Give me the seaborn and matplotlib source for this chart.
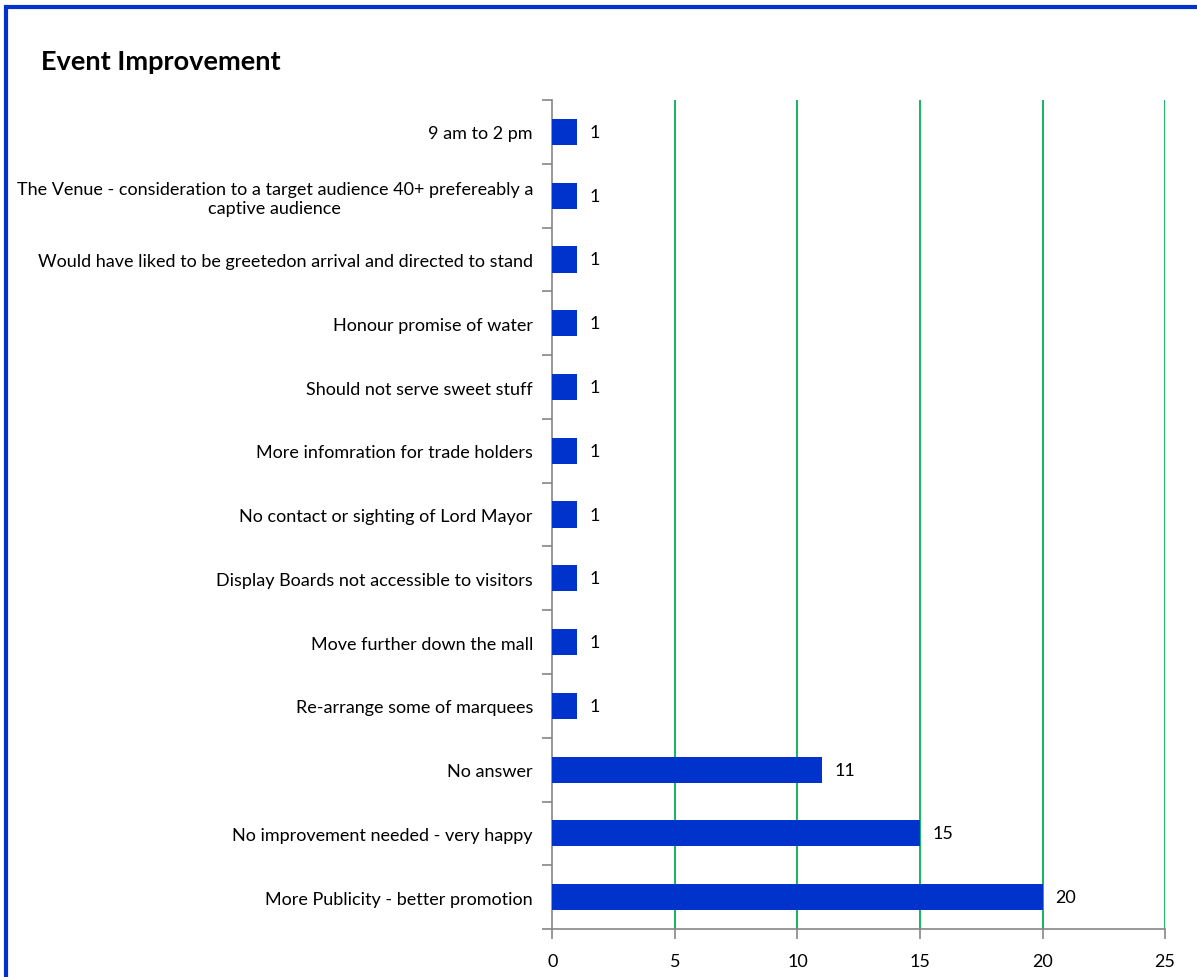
import matplotlib
matplotlib.use("Agg")
import matplotlib.pyplot as plt
import seaborn as sns
import pandas as pd
from matplotlib.patches import Rectangle

# Data (top to bottom as shown)
categories = [
    "9 am to 2 pm",
    "The Venue - consideration to a target audience 40+ prefereably a\ncaptive audience",
    "Would have liked to be greetedon arrival and directed to stand",
    "Honour promise of water",
    "Should not serve sweet stuff",
    "More infomration for trade holders",
    "No contact or sighting of Lord Mayor",
    "Display Boards not accessible to visitors",
    "Move further down the mall",
    "Re-arrange some of marquees",
    "No answer",
    "No improvement needed - very happy",
    "More Publicity - better promotion",
]
counts = [1, 1, 1, 1, 1, 1, 1, 1, 1, 1, 11, 15, 20]
x_ticks = [0, 5, 10, 15, 20, 25]

BAR_COLOR = "#0033CC"
GRID_COLOR = "#00B050"
AXIS_COLOR = "#868686"

def main():
    df = pd.DataFrame({"category": categories, "count": counts})

    sns.set_theme(style="white")
    plt.rcParams["font.family"] = ["Lato", "DejaVu Sans"]
    plt.rcParams["text.color"] = "black"
    plt.rcParams["xtick.color"] = "black"
    plt.rcParams["ytick.color"] = "black"

    fig = plt.figure(figsize=(11.97, 9.78), dpi=100)
    ax = fig.add_axes([0.4615, 0.049, 0.5118, 0.8477])

    # blue border around the chart area
    fig.patches.append(Rectangle((0.005, -0.1), 1.2, 1.092, transform=fig.transFigure,
                                 fill=False, edgecolor="#0033CC", linewidth=3))

    sns.barplot(data=df, x="count", y="category", orient="h", color=BAR_COLOR,
                saturation=1, width=0.41, linewidth=0, ax=ax, zorder=3)

    ax.set_xlim(0, 25)
    ax.set_ylim(len(categories) - 0.5, -0.5)
    ax.set_xticks(x_ticks)
    ax.set_xticklabels([str(t) for t in x_ticks], fontsize=13)
    ax.set_xlabel("")
    ax.set_ylabel("")

    # gridlines
    for t in x_ticks[1:]:
        ax.axvline(t, color=GRID_COLOR, linewidth=1.3, zorder=1)

    # category labels without default ticks; boundary tick marks instead
    ax.set_yticks(range(len(categories)))
    ax.set_yticklabels(categories, fontsize=13, multialignment="center")
    ax.tick_params(axis="y", which="major", length=0, pad=14)
    ax.set_yticks([i - 0.5 for i in range(len(categories) + 1)], minor=True)
    ax.tick_params(axis="y", which="minor", left=True, length=7, color=AXIS_COLOR,
                   width=1.2, direction="out")
    ax.tick_params(axis="x", bottom=True, length=7, color=AXIS_COLOR, labelcolor="black",
                   width=1.2, direction="out", pad=10)

    for side in ["top", "right"]:
        ax.spines[side].set_visible(False)
    for side in ["left", "bottom"]:
        ax.spines[side].set_color(AXIS_COLOR)
        ax.spines[side].set_linewidth(1.2)

    # value labels
    for i, v in enumerate(counts):
        ax.text(v + 0.5, i, str(v), va="center", ha="left", fontsize=13, color="black")

    fig.text(0.034, 0.937, "Event Improvement", fontsize=19.5, fontweight="bold",
             ha="left", va="center", color="black")

    fig.savefig("out.png", dpi=100)

if __name__ == "__main__":
    main()
